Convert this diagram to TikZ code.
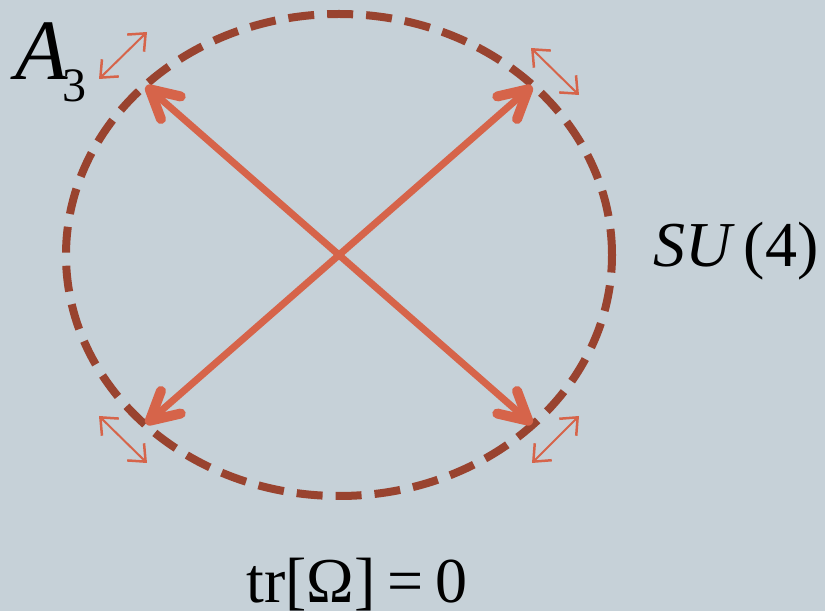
\documentclass[tikz,border=0pt]{standalone}
\usepackage{fontspec}
\setmainfont{Liberation Serif}
\usepackage{xcolor}
\usepackage{tikz}
\usetikzlibrary{arrows.meta}

\definecolor{bgcol}{HTML}{C6D1D8}
\definecolor{spokecol}{HTML}{D6644A}
\definecolor{rimcol}{HTML}{99432F}

\begin{document}
\begin{tikzpicture}[
    x=1pt, y=1pt,
    spoke/.style={line width=7pt, draw=spokecol, -{Straight Barb[length=28pt, width=30pt, round, line width'=10pt]}},
    tick/.style={line width=2pt, draw=spokecol, >={Straight Barb[length=14pt, width=24pt, line width'=2.5pt]}, <->},
    rim/.style={line width=8pt, draw=rimcol, dash pattern=on 26pt off 13pt},
    lbl/.style={inner sep=0pt, text=black, font=\fontsize{64}{64}\selectfont},
]

% ── Background ──
\fill[bgcol] (0,0) rectangle (825,611);
\useasboundingbox (0,0) rectangle (825,611);

% ── Points ──
\coordinate (c) at (339,356);
\coordinate (tl) at (146,525);
\coordinate (tr) at (532,525);
\coordinate (bl) at (146,187);
\coordinate (br) at (532,187);

% ── Rim ──
\draw[rim] (c) ellipse [x radius=273pt, y radius=241pt];

% ── Spokes ──
\draw[spoke] (c) -- (tl);
\draw[spoke] (c) -- (tr);
\draw[spoke] (c) -- (bl);
\draw[spoke] (c) -- (br);

% ── Small arrows ──
\coordinate (tla) at (99,532);  \coordinate (tlb) at (147,579);
\coordinate (tra) at (531,563); \coordinate (trb) at (579,516);
\coordinate (bla) at (99,195);  \coordinate (blb) at (147,148);
\coordinate (bra) at (579,195); \coordinate (brb) at (532,148);
\draw[tick] (tla) -- (tlb);
\draw[tick] (tra) -- (trb);
\draw[tick] (bla) -- (blb);
\draw[tick] (bra) -- (brb);

% ── Labels ──
\node[lbl, anchor=base west] (alabel) at (15,531)
    {{\fontsize{86}{86}\selectfont\itshape A}\kern-5pt\raisebox{-22pt}{\fontsize{48}{48}\selectfont 3}};
\node[lbl, anchor=base west] (su) at (653,344) {\textit{SU}\hspace{9pt}(4)};
\node[lbl, anchor=base] (trace) at (357,9) {tr[Ω]\hspace{12pt}=\hspace{12pt}0};

\end{tikzpicture}
\end{document}
